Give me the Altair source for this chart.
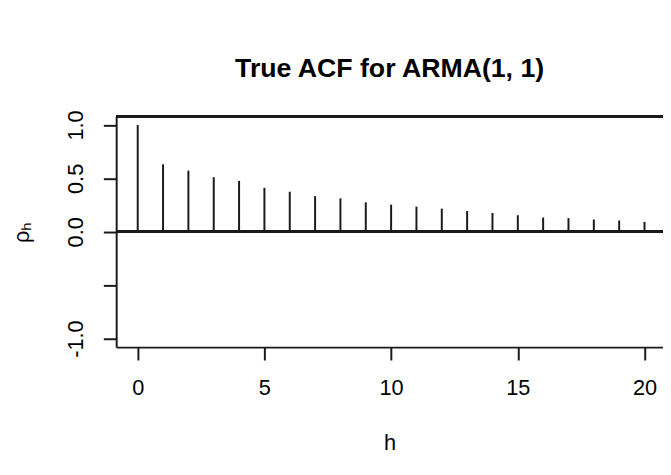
import altair as alt
import pandas as pd

# ---- data ----
lags = list(range(21))
acf_values = [1.0, 0.632, 0.573, 0.511, 0.477, 0.412, 0.375, 0.334, 0.313, 0.276,
              0.254, 0.236, 0.217, 0.195, 0.176, 0.155, 0.134, 0.128, 0.115, 0.106, 0.093]
x_ticks = [0, 5, 10, 15, 20]
y_ticks = [-1.0, -0.5, 0.0, 0.5, 1.0]
chart_title = "True ACF for ARMA(1, 1)"
x_label = "h"
y_label = "ρₕ"

df = pd.DataFrame({"lag": lags, "acf": acf_values, "zero": [0.0] * len(lags)})

W = 553.5
H = 233.5
FONT = "Liberation Sans"
LINE = "#1a1a1a"

xscale = alt.Scale(domain=[-0.85, 20.73], nice=False, zero=False)
yscale = alt.Scale(domain=[-1.08, 1.08], nice=False, zero=False)

x_axis = alt.Axis(
    values=x_ticks, title=x_label, grid=False,
    domainColor=LINE, domainWidth=2, tickColor=LINE, tickWidth=2, tickSize=13,
    labelFont=FONT, labelFontSize=22, labelColor="black", labelPadding=28,
    labelBaseline="middle", labelAlign="center", labelFlush=False,
    titleFont=FONT, titleFontSize=22, titleFontWeight="normal", titleColor="black",
    titleBaseline="alphabetic", titleAlign="center", titleY=103.5,
)
y_axis = alt.Axis(
    values=y_ticks, title=y_label, grid=False,
    labelExpr="datum.value == -0.5 ? '' : replace(format(datum.value, '.1f'), '\u2212', '-')",
    domainColor=LINE, domainWidth=2, tickColor=LINE, tickWidth=2, tickSize=13,
    labelFont=FONT, labelFontSize=22, labelColor="black", labelPadding=21.5,
    labelAngle=270, labelAlign="center", labelBaseline="alphabetic", labelFlush=False,
    titleFont=FONT, titleFontSize=22, titleFontWeight="normal", titleColor="black",
    titleAngle=270, titleAlign="center", titleBaseline="alphabetic",
    titleX=-89, titleY=H / 2,
)

stems = alt.Chart(df).mark_rule(color=LINE, strokeWidth=2).encode(
    x=alt.X("lag:Q", scale=xscale, axis=x_axis),
    y=alt.Y("zero:Q", scale=yscale, axis=y_axis),
    y2="acf:Q",
)

zero_line = alt.Chart(df).mark_rule(color=LINE, strokeWidth=2).encode(
    y=alt.datum(0.0)
)
top_border = alt.Chart(df).mark_rule(color=LINE, strokeWidth=2).encode(
    y=alt.datum(1.08)
)

chart = alt.layer(stems, zero_line, top_border).properties(
    width=W,
    height=H,
    padding={"left": 109.5, "top": 107, "right": 0, "bottom": 115},
    autosize=alt.AutoSizeParams(type="none"),
    background="white",
    title=alt.TitleParams(
        text=chart_title, font=FONT, fontSize=27, fontWeight="bold", color="black",
        anchor="middle", frame="group", baseline="alphabetic", offset=6,
    ),
).configure_view(stroke="transparent")

chart.save("out.html", embed_options={"renderer": "svg", "actions": False})
